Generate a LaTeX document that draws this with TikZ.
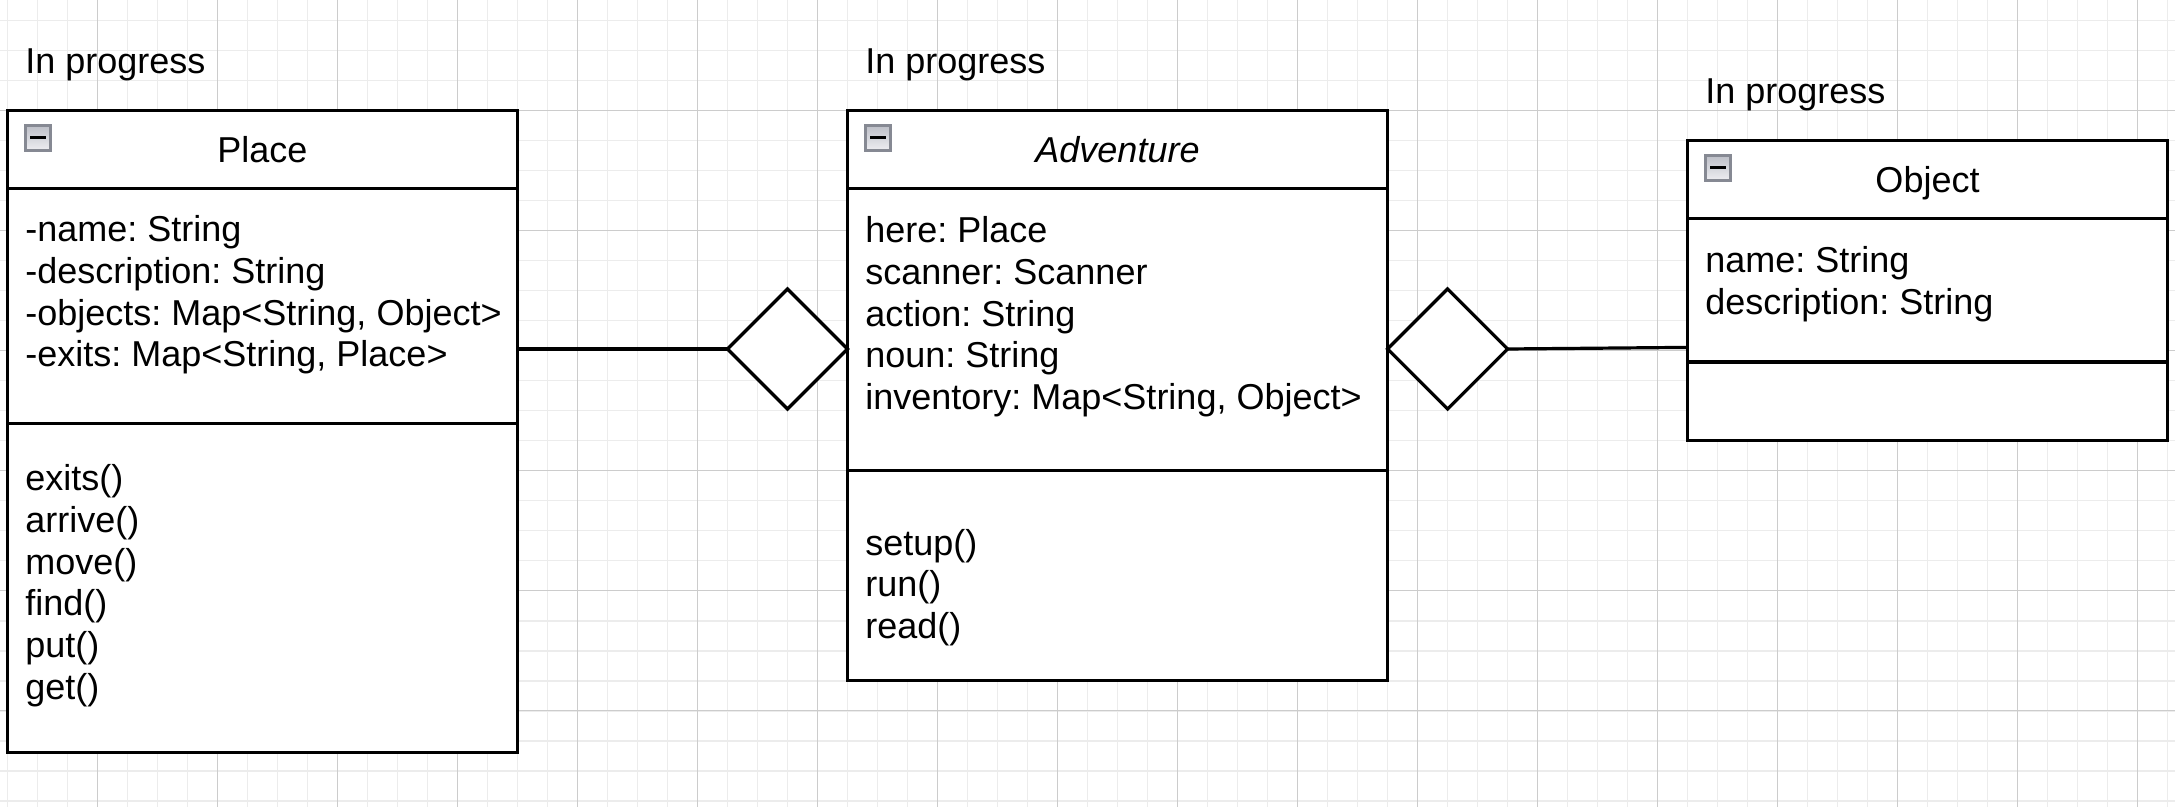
\documentclass[tikz,border=0pt]{standalone}
\usepackage{fontspec}
\setmainfont{Liberation Sans}
\usepackage{xcolor}
\usepackage{tikz}
\usetikzlibrary{shapes.geometric, positioning, calc}
\definecolor{gridminor}{RGB}{236,236,236}
\definecolor{gridmajor}{RGB}{204,204,204}
\definecolor{iconedge}{RGB}{134,137,147}
\definecolor{icontop}{RGB}{190,192,200}
\definecolor{iconbottom}{RGB}{238,238,242}
\frenchspacing

\tikzset{
  umlfont/.style={font=\fontsize{18}{21}\selectfont},
  classbox/.style={draw, line width=1.6pt, fill=white, inner sep=0pt, outer sep=0pt, anchor=north west},
  compart/.style={line width=1.6pt},
  aggdiamond/.style={diamond, draw, line width=1.6pt, fill=white, minimum width=60pt, minimum height=60pt, inner sep=0pt, outer sep=0pt},
  memberline/.style={umlfont, anchor=base west, inner sep=0pt},
  titleline/.style={umlfont, anchor=base, inner sep=0pt},
  collapsebtn/.style={draw=iconedge, line width=1.6pt, top color=icontop, bottom color=iconbottom,
    minimum size=12.4pt, inner sep=0pt, anchor=north west,
    path picture={\draw[draw=black, line width=1.6pt] ([xshift=-3.9pt,yshift=0.4pt]path picture bounding box.center) -- ([xshift=3.9pt,yshift=0.4pt]path picture bounding box.center);}},
}

\begin{document}
\begin{tikzpicture}[x=0.5pt, y=-0.5pt]
  \useasboundingbox (0,0) rectangle (2175,807);
  % Background grid
  \fill[white] (0,0) rectangle (2175,807);
  \foreach \gx in {7.5,37.5,...,2175} \draw[gridminor, line width=0.8pt] (\gx,0) -- (\gx,807);
  \foreach \gy in {20.7,50.7,...,807} \draw[gridminor, line width=0.8pt] (0,\gy) -- (2175,\gy);
  \foreach \gx in {97.5,217.5,...,2175} \draw[gridmajor, line width=0.6pt] (\gx,0) -- (\gx,807);
  \foreach \gy in {110.7,230.7,...,807} \draw[gridmajor, line width=0.6pt] (0,\gy) -- (2175,\gy);

  % Place class
  \node[memberline] (placestatus) at (25,74) {In progress};
  \node[classbox, minimum width=255pt, minimum height=321pt] (place) at (7.5,110.7) {};
  \draw[compart] ([yshift=-39pt]place.north west) -- ([yshift=-39pt]place.north east);
  \draw[compart] ([yshift=-156.3pt]place.north west) -- ([yshift=-156.3pt]place.north east);
  \node[collapsebtn] (placebtn) at ([shift={(16.4,13.6)}]place.north west) {};
  \node[titleline] (placetitle) at ([yshift=-26pt]place.north) {Place};
  \foreach \txt [count=\i from 0] in {-name: String, -description: String,
      {-objects: Map<String, Object>}, {-exits: Map<String, Place>}}
    \node[memberline] (placeattr\i) at (25,242+41.6*\i) {\txt};
  \foreach \txt [count=\i from 0] in {exits(), arrive(), move(), find(), put(), get()}
    \node[memberline] (placeop\i) at (25,491+41.6*\i) {\txt};

  % Adventure class
  \node[memberline] (advstatus) at (865,74) {In progress};
  \node[classbox, minimum width=270pt, minimum height=285pt] (adventure) at (847.5,110.7) {};
  \draw[compart] ([yshift=-39pt]adventure.north west) -- ([yshift=-39pt]adventure.north east);
  \draw[compart] ([yshift=-180pt]adventure.north west) -- ([yshift=-180pt]adventure.north east);
  \node[collapsebtn] (advbtn) at ([shift={(16.4,13.6)}]adventure.north west) {};
  \node[titleline] (advtitle) at ([yshift=-26pt]adventure.north) {\itshape Adventure};
  \foreach \txt [count=\i from 0] in {here: Place, scanner: Scanner, action: String,
      noun: String, {inventory: Map<String, Object>}}
    \node[memberline] (advattr\i) at (865,243+41.6*\i) {\txt};
  \foreach \txt [count=\i from 0] in {setup(), run(), read()}
    \node[memberline] (advop\i) at (865,555+41.6*\i) {\txt};

  % Object class
  \node[memberline] (objstatus) at (1705,104) {In progress};
  \node[classbox, minimum width=240pt, minimum height=150pt] (object) at (1687.5,140.7) {};
  \draw[compart] ([yshift=-39pt]object.north west) -- ([yshift=-39pt]object.north east);
  \draw[compart] ([yshift=-110.7pt]object.north west) -- ([yshift=-110.7pt]object.north east);
  \node[collapsebtn] (objbtn) at ([shift={(16.4,13.6)}]object.north west) {};
  \node[titleline] (objtitle) at ([yshift=-26pt]object.north) {Object};
  \foreach \txt [count=\i from 0] in {name: String, description: String}
    \node[memberline] (objattr\i) at (1705,272.5+41.6*\i) {\txt};

  % Aggregation diamonds and links
  \node[aggdiamond] (placeagg) at (787.5,349) {};
  \node[aggdiamond] (objagg) at (1447.5,349) {};
  \draw[compart] (placeagg.west -| place.east) -- (placeagg.west);
  \draw[compart] (objagg.east) -- ([yshift=0.8pt]objagg.east -| object.west);
\end{tikzpicture}
\end{document}
